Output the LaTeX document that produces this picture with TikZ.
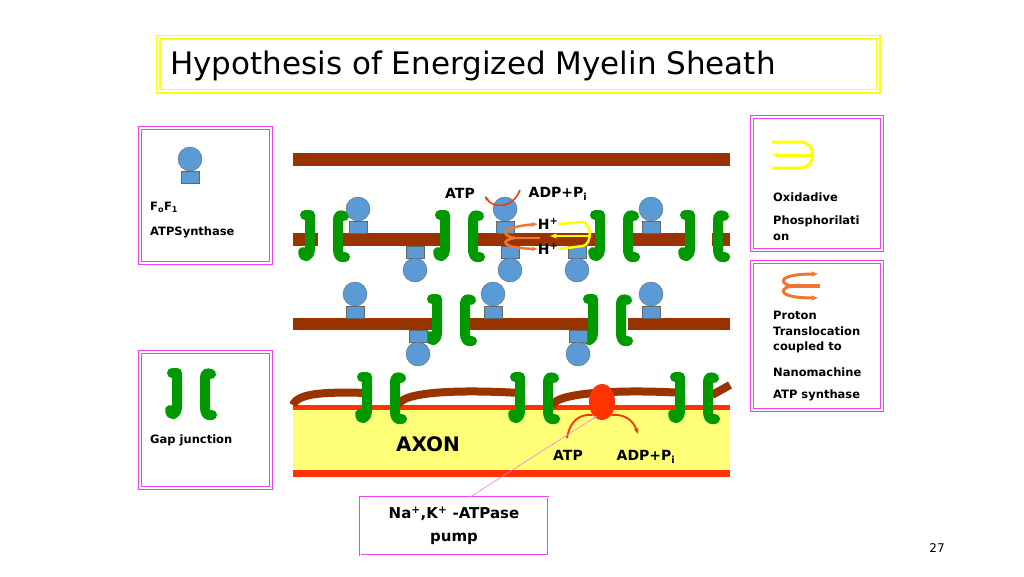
\documentclass[tikz,border=0pt]{standalone}
\usepackage{fontspec}
\setmainfont{DejaVu Sans}
\usetikzlibrary{arrows.meta,shapes.geometric}
\definecolor{brn}{HTML}{993300}
\definecolor{grn}{HTML}{009900}
\definecolor{blu}{HTML}{5B9BD5}
\definecolor{pnk}{HTML}{EE44EE}
\definecolor{ylw}{HTML}{FFFF00}
\definecolor{axy}{HTML}{FFFF77}
\definecolor{org}{HTML}{EE7733}
\definecolor{rd}{HTML}{FF3300}
\tikzset{
 frame/.style={draw=pnk,double=white,double distance=1.5pt,line width=0.8pt},
 lbl/.style={font=\fontsize{14}{16}\selectfont\bfseries,inner sep=0},
 small/.style={font=\fontsize{11.5}{15.5}\selectfont\bfseries,inner sep=0,anchor=west},
 bar/.style={fill=brn},
 gj/.style={draw=grn,line width=10pt,line cap=round,line join=round},
 gl/.pic={\draw[gj] (-5,-21) -- (0,-21) -- (0,12) .. controls (0,22) and (-7,22) .. (-7,16);},
 gr/.pic={\draw[gj] (6,-20) .. controls (0,-22) and (0,-20) .. (0,-12) -- (0,12) .. controls (0,20) and (2,22) .. (7,21);},
 gap/.pic={\pic at (0,0) {gl}; \pic at (28,0) {gr};},
 synu/.pic={\draw[fill=blu,draw=black!60] (-9,0) rectangle (9,-12); \draw[fill=blu,draw=black!60] (0,-24) circle (12);},
 synd/.pic={\draw[fill=blu,draw=black!60] (-9,0) rectangle (9,12); \draw[fill=blu,draw=black!60] (0,24) circle (12);},
}
\begin{document}
\begin{tikzpicture}[x=1pt,y=-1pt]
\useasboundingbox[fill=white] (0,0) rectangle (1024,576);
% title
\draw[draw=ylw,double=white,double distance=2pt,line width=1.5pt] (158,37) rectangle (878,91);
\node[anchor=west,inner sep=0,font=\fontsize{31}{34}\selectfont] (title) at (170,66) {Hypothesis of Energized Myelin Sheath};
% legend boxes
\draw[frame] (140,128) rectangle (271,263);
\pic at (190,183) {synu};
\node[small] (fof) at (150,207) {F\textsubscript{o}F\textsubscript{1}};
\node[small] (atps) at (150,232) {ATPSynthase};
\draw[frame] (140,352) rectangle (271,488);
\pic at (177,394) {gap};
\node[small] (gapj) at (150,440) {Gap junction};
\draw[frame] (752,117) rectangle (882,250);
\draw[ylw,line width=3pt] (772,142) -- (800,142) .. controls (817,142) and (817,168) .. (800,168) -- (772,168);
\draw[ylw,line width=3pt,-{Stealth[length=7pt]}] (812,155) -- (772,155);
\node[small] (ox) at (773,197) {Oxidadive};
\node[small,align=left,anchor=north west] (ph) at (773,216) {Phosphorilati\\on};
\draw[frame] (752,262) rectangle (882,410);
\draw[org,line width=3pt,-{Stealth[length=7pt]}] (790,286) .. controls (778,282) and (780,274) .. (818,274);
\draw[org,line width=3pt,-{Stealth[length=7pt]}] (790,286) .. controls (778,290) and (780,298) .. (818,298);
\draw[org,line width=4pt] (790,286) -- (820,286);
\node[small,align=left,anchor=north west] (pt) at (773,311) {Proton\\Translocation\\coupled to};
\node[small] (nm) at (773,372) {Nanomachine};
\node[small] (as) at (773,395) {ATP synthase};
% membranes
\fill[bar] (293,153) rectangle (730,166);
\foreach \a/\b in {293/318,338/445,472/600,628/690,712/730} \fill[bar] (\a,233) rectangle (\b,246);
\foreach \a/\b in {293/440,470/598,628/730} \fill[bar] (\a,318) rectangle (\b,330);
\foreach \x in {310,445,600,690} \pic at (\x,236) {gap};
\foreach \x in {437,593} \pic at (\x,320) {gap};
\foreach \x in {358,505,651} \pic at (\x,233) {synu};
\foreach \x in {415,510,577} \pic at (\x,246) {synd};
\foreach \x in {355,493,651} \pic at (\x,318) {synu};
\foreach \x in {418,578} \pic at (\x,330) {synd};
% ATP synthase reaction
\node[lbl] (atp1) at (460,193) {ATP};
\node[lbl] (adp1) at (558,194) {ADP+P\textsubscript{i}};
\draw[rd,line width=1.5pt,-{Stealth[length=5pt]}] (520,190) .. controls (512,210) and (492,208) .. (485,196);
\node[lbl] (h1) at (548,224) {H\textsuperscript{+}};
\node[lbl] (h2) at (548,249) {H\textsuperscript{+}};
\draw[org,line width=2.5pt,-{Stealth[length=6pt]}] (515,238) .. controls (500,236) and (500,227) .. (h1.west);
\draw[org,line width=2.5pt,-{Stealth[length=6pt]}] (515,238) .. controls (500,240) and (500,248) .. (h2.west);
\draw[org,line width=2.5pt] (515,238) -- (540,238);
\draw[ylw,line width=2.5pt] (h1.east) -- (583,222) .. controls (592,224) and (592,244) .. (583,246) -- (h2.east);
\draw[ylw,line width=2.5pt,-{Stealth[length=7pt]}] (590,236) -- (550,236);
% axon
\fill[axy] (293,405) rectangle (730,475);
\fill[rd] (293,405) rectangle (730,410);
\fill[rd] (293,470) rectangle (730,477);
\draw[brn,line width=8pt] (293,405) .. controls (298,392) and (330,392) .. (370,393);
\draw[brn,line width=8pt] (398,406) .. controls (400,390) and (470,390) .. (520,393);
\draw[brn,line width=8pt] (552,406) .. controls (556,390) and (640,390) .. (683,393);
\draw[brn,line width=8pt] (712,395) -- (730,385);
\foreach \x in {367,520,680} \pic at (\x,398) {gap};
\node[fill=rd,ellipse,minimum width=26pt,minimum height=36pt,inner sep=0] (pump) at (602,402) {};
\node[lbl,font=\fontsize{20}{22}\selectfont\bfseries] (axon) at (428,444) {AXON};
\node[lbl] (atp2) at (568,455) {ATP};
\node[lbl] (adp2) at (646,457) {ADP+P\textsubscript{i}};
\draw[rd,line width=1.8pt] (567,438) .. controls (570,420) and (580,414) .. (pump.south west);
\draw[rd,line width=1.8pt,-{Stealth[length=6pt]}] (pump.south east) .. controls (625,414) and (633,420) .. (638,434);
\node[draw=pnk,double=white,double distance=1pt,line width=0.6pt,minimum width=188pt,minimum height=58pt,align=center,font=\fontsize{15}{23}\selectfont\bfseries] (pumpbox) at (454,526) {Na\textsuperscript{+},K\textsuperscript{+} -ATPase\\pump};
\coordinate (pt0) at (470,497);
\draw[pnk!70,line width=0.6pt,-{Stealth[length=4pt]}] (pt0) -- (597,416);
\node[inner sep=0,font=\fontsize{12}{14}\selectfont] (pg) at (937,548) {27};
\end{tikzpicture}
\end{document}
